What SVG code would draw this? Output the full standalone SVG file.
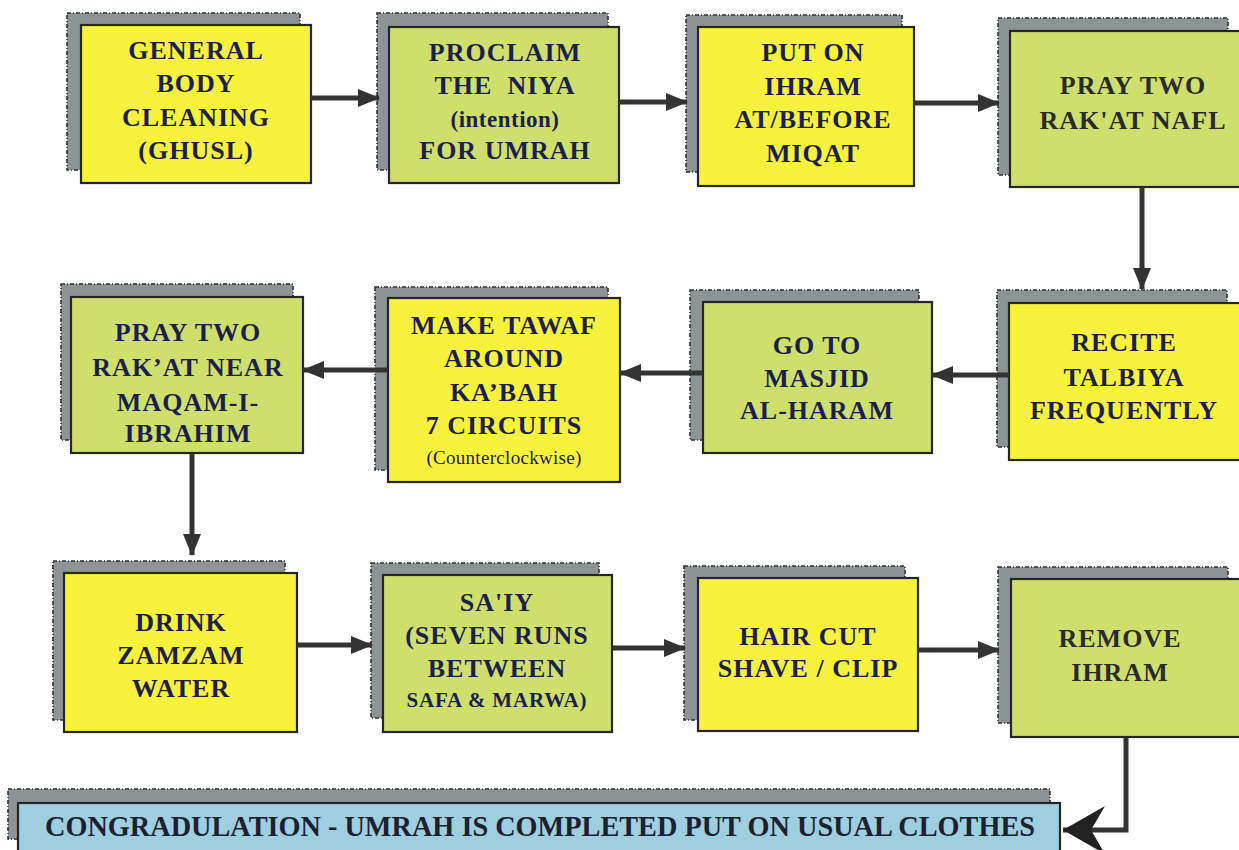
<svg xmlns="http://www.w3.org/2000/svg" width="1239" height="850" viewBox="0 0 1239 850">
<style>
.sh{fill:#8d9494;stroke:#2e3333;stroke-width:1.6;stroke-dasharray:4 2 1 2}
.y{fill:#f8f23c;stroke:#262626;stroke-width:2.2}
.g{fill:#cfdf6c;stroke:#262626;stroke-width:2.2}
.b{fill:#9dcfe0;stroke:#262626;stroke-width:2.2}
text{font-family:"Liberation Serif","Times New Roman",serif;font-weight:bold;font-size:26px;letter-spacing:1px;fill:#1c1f4c;text-anchor:middle}
.dk{fill:#2a2a2a}
.sm{font-size:23px;letter-spacing:0.5px}
.xs{font-size:19px;font-weight:normal;letter-spacing:0.3px}
.s2{font-size:21px;letter-spacing:0.8px}
.ban{font-size:30px;letter-spacing:0;text-anchor:start;fill:#1e2030}
.c{fill:none;stroke:#333;stroke-width:5}
</style>
<defs>
<marker id="ah" markerUnits="userSpaceOnUse" markerWidth="22" markerHeight="18" refX="21" refY="9" orient="auto">
<path d="M0,0 L22,9 L0,18 Z" fill="#333"/>
</marker>
<marker id="big" markerUnits="userSpaceOnUse" markerWidth="44" markerHeight="48" refX="42" refY="24" orient="auto">
<path d="M42,24 L0,0 L14,24 L0,48 Z" fill="#222"/>
</marker>
</defs>

<g id="n1">
<rect class="sh" x="67" y="13" width="233" height="157"/>
<rect class="y" x="81" y="25" width="230" height="158"/>
<text x="196" y="59">GENERAL</text>
<text x="196" y="92">BODY</text>
<text x="196" y="126">CLEANING</text>
<text x="196" y="159">(GHUSL)</text>
</g>

<g id="n2">
<rect class="sh" x="377" y="13" width="231" height="157"/>
<rect class="g" x="389" y="27" width="230" height="156"/>
<text x="505" y="61">PROCLAIM</text>
<text x="505" y="94" xml:space="preserve">THE  NIYA</text>
<text class="sm" x="505" y="127">(intention)</text>
<text x="505" y="159">FOR UMRAH</text>
</g>

<g id="n3">
<rect class="sh" x="686" y="15" width="216" height="157"/>
<rect class="y" x="698" y="27" width="216" height="159"/>
<text x="813" y="61">PUT ON</text>
<text x="813" y="95">IHRAM</text>
<text x="813" y="128">AT/BEFORE</text>
<text x="813" y="162">MIQAT</text>
</g>

<g id="n4">
<rect class="sh" x="998" y="18" width="230" height="157"/>
<rect class="g" x="1010" y="31" width="232" height="156"/>
<text class="dk" x="1133" y="94">PRAY TWO</text>
<text class="dk" x="1133" y="129">RAK'AT NAFL</text>
</g>

<g id="n5">
<rect class="sh" x="997" y="290" width="230" height="157"/>
<rect class="y" x="1009" y="303" width="233" height="157"/>
<text x="1124" y="351">RECITE</text>
<text x="1124" y="386">TALBIYA</text>
<text x="1124" y="419">FREQUENTLY</text>
</g>

<g id="n6">
<rect class="sh" x="690" y="290" width="229" height="150"/>
<rect class="g" x="703" y="302" width="229" height="151"/>
<text x="817" y="354">GO TO</text>
<text x="817" y="387">MASJID</text>
<text x="817" y="419">AL-HARAM</text>
</g>

<g id="n7">
<rect class="sh" x="375" y="287" width="233" height="183"/>
<rect class="y" x="388" y="298" width="232" height="184"/>
<text x="504" y="334">MAKE TAWAF</text>
<text x="504" y="367">AROUND</text>
<text x="504" y="401">KA’BAH</text>
<text x="504" y="434">7 CIRCUITS</text>
<text class="xs" x="504" y="464">(Counterclockwise)</text>
</g>

<g id="n8">
<rect class="sh" x="61" y="284" width="232" height="156"/>
<rect class="g" x="71" y="297" width="232" height="156"/>
<text x="188" y="341">PRAY TWO</text>
<text x="188" y="376">RAK’AT NEAR</text>
<text x="188" y="411">MAQAM-I-</text>
<text x="188" y="442">IBRAHIM</text>
</g>

<g id="n9">
<rect class="sh" x="53" y="561" width="232" height="159"/>
<rect class="y" x="64" y="573" width="233" height="159"/>
<text x="181" y="631">DRINK</text>
<text x="181" y="664">ZAMZAM</text>
<text x="181" y="697">WATER</text>
</g>

<g id="n10">
<rect class="sh" x="371" y="563" width="228" height="155"/>
<rect class="g" x="383" y="575" width="229" height="157"/>
<text x="497" y="611">SA'IY</text>
<text x="497" y="644">(SEVEN RUNS</text>
<text x="497" y="677">BETWEEN</text>
<text class="s2" x="497" y="707">SAFA &amp; MARWA)</text>
</g>

<g id="n11">
<rect class="sh" x="684" y="566" width="221" height="154"/>
<rect class="y" x="698" y="578" width="220" height="153"/>
<text x="808" y="645">HAIR CUT</text>
<text x="808" y="677">SHAVE / CLIP</text>
</g>

<g id="n12">
<rect class="sh" x="998" y="567" width="230" height="156"/>
<rect class="g" x="1011" y="579" width="232" height="158"/>
<text class="dk" x="1120" y="647">REMOVE</text>
<text class="dk" x="1120" y="681">IHRAM</text>
</g>

<g id="n13">
<rect class="sh" x="8" y="789" width="1042" height="50"/>
<rect class="b" x="18" y="803" width="1042" height="50"/>
<text class="ban" x="45" y="836" textLength="990" lengthAdjust="spacingAndGlyphs">CONGRADULATION - UMRAH IS COMPLETED PUT ON USUAL CLOTHES</text>
</g>

<g id="connectors">
<line class="c" x1="311" y1="98" x2="379" y2="98" marker-end="url(#ah)"/>
<line class="c" x1="619" y1="102" x2="687" y2="102" marker-end="url(#ah)"/>
<line class="c" x1="914" y1="103" x2="999" y2="103" marker-end="url(#ah)"/>
<line class="c" x1="1142" y1="187" x2="1142" y2="289" marker-end="url(#ah)"/>
<line class="c" x1="1009" y1="375" x2="932" y2="375" marker-end="url(#ah)"/>
<line class="c" x1="703" y1="373" x2="620" y2="373" marker-end="url(#ah)"/>
<line class="c" x1="388" y1="370" x2="303" y2="370" marker-end="url(#ah)"/>
<line class="c" x1="192" y1="453" x2="192" y2="555" marker-end="url(#ah)"/>
<line class="c" x1="297" y1="645" x2="372" y2="645" marker-end="url(#ah)"/>
<line class="c" x1="612" y1="648" x2="685" y2="648" marker-end="url(#ah)"/>
<line class="c" x1="918" y1="650" x2="999" y2="650" marker-end="url(#ah)"/>
<path class="c" d="M1126,737 L1126,830 L1063,830" marker-end="url(#big)"/>
</g>
</svg>
